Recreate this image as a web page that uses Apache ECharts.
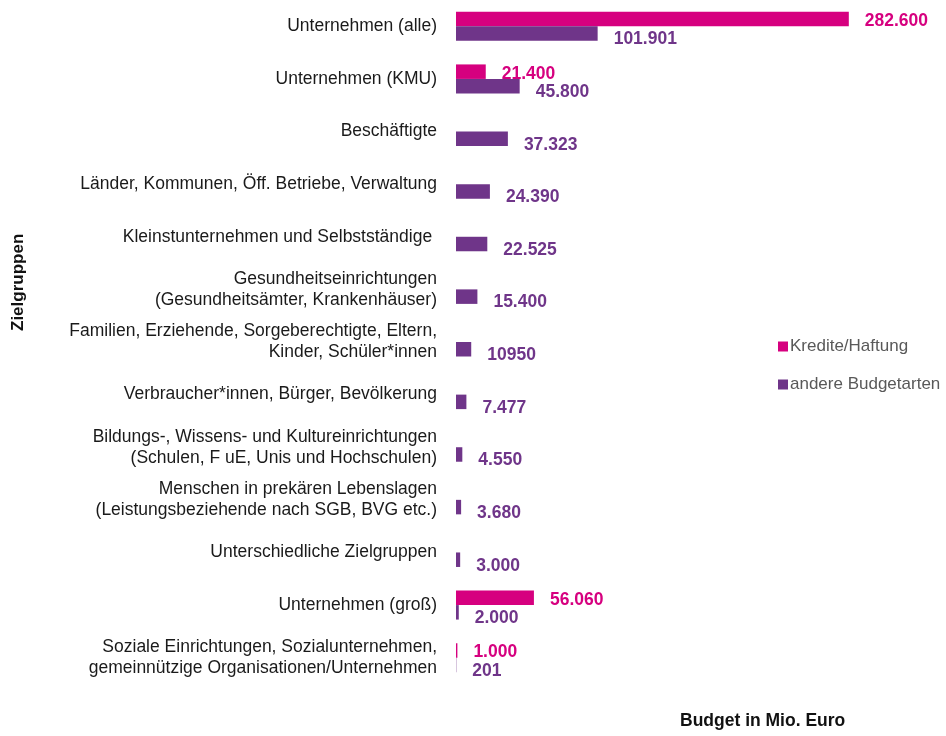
<!DOCTYPE html>
<html><head><meta charset="utf-8">
<script src="https://cdn.jsdelivr.net/npm/echarts@6/dist/echarts.min.js"></script>
<style>html,body{margin:0;padding:0;background:#fff}#c{width:946px;height:736px}</style>
</head><body><div id="c"></div>
<script>
const categories = [
  'Unternehmen (alle)',
  'Unternehmen (KMU)',
  'Beschäftigte',
  'Länder, Kommunen, Öff. Betriebe, Verwaltung',
  'Kleinstunternehmen und Selbstständige ',
  'Gesundheitseinrichtungen\n(Gesundheitsämter, Krankenhäuser)',
  'Familien, Erziehende, Sorgeberechtigte, Eltern,\nKinder, Schüler*innen',
  'Verbraucher*innen, Bürger, Bevölkerung',
  'Bildungs-, Wissens- und Kultureinrichtungen\n(Schulen, F uE, Unis und Hochschulen)',
  'Menschen in prekären Lebenslagen\n(Leistungsbeziehende nach SGB, BVG etc.)',
  'Unterschiedliche Zielgruppen',
  'Unternehmen (groß)',
  'Soziale Einrichtungen, Sozialunternehmen,\ngemeinnützige Organisationen/Unternehmen'
];
const krediteValues = [282600, 21400, null, null, null, null, null, null, null, null, null, 56060, 1000];
const krediteLabels = ['282.600', '21.400', '', '', '', '', '', '', '', '', '', '56.060', '1.000'];
const andereValues = [101901, 45800, 37323, 24390, 22525, 15400, 10950, 7477, 4550, 3680, 3000, 2000, 201];
const andereLabels = ['101.901', '45.800', '37.323', '24.390', '22.525', '15.400', '10950', '7.477', '4.550', '3.680', '3.000', '2.000', '201'];
const seriesNames = ['Kredite/Haftung', 'andere Budgetarten'];

const MAGENTA = '#D6007F', PURPLE = '#6F3589';
const chart = echarts.init(document.getElementById('c'));
chart.setOption({
  animation: false,
  textStyle: {fontFamily: '"Liberation Sans", Arial, sans-serif'},
  grid: {left: 456, top: 0, width: 417, height: 684, containLabel: false},
  legend: {
    orient: 'vertical', left: 773, top: 333, itemWidth: 10, itemHeight: 10, itemGap: 21,
    icon: 'rect',
    textStyle: {fontSize: 17, color: '#595959', padding: [0, 0, 0, -3]},
    data: seriesNames
  },
  xAxis: {type: 'value', min: 0, max: 300000, show: false},
  yAxis: {
    type: 'category', data: categories, inverse: true,
    axisLine: {show: false}, axisTick: {show: false}, splitLine: {show: false},
    axisLabel: {fontSize: 17.5, color: '#1a1a1a', margin: 19, lineHeight: 21, align: 'right'}
  },
  series: [
    {
      name: seriesNames[0], type: 'bar', data: krediteValues, barWidth: 14.5, barGap: '0%',
      itemStyle: {color: MAGENTA},
      label: {show: true, position: 'right', distance: 16, offset: [0, 2], color: MAGENTA, fontWeight: 'bold', fontSize: 17.5,
        formatter: p => krediteLabels[p.dataIndex]}
    },
    {
      name: seriesNames[1], type: 'bar', data: andereValues, barWidth: 14.5, barGap: '0%',
      itemStyle: {color: PURPLE},
      label: {show: true, position: 'right', distance: 16, offset: [0, 6], color: PURPLE, fontWeight: 'bold', fontSize: 17.5,
        formatter: p => andereLabels[p.dataIndex]}
    }
  ],
  graphic: [
    {type: 'text', left: 680, top: 712, style: {text: 'Budget in Mio. Euro', font: 'bold 17.5px "Liberation Sans", Arial, sans-serif', fill: '#111'}},
    {type: 'text', x: 10, y: 331, rotation: Math.PI / 2, style: {text: 'Zielgruppen', font: 'bold 17px "Liberation Sans", Arial, sans-serif', fill: '#111', verticalAlign: 'top'}}
  ]
});
</script></body></html>
